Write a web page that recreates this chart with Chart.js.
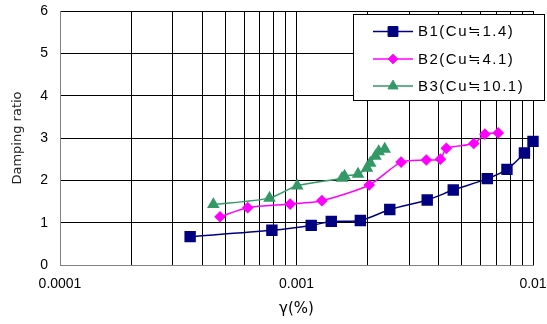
<!DOCTYPE html>
<html>
<head>
<meta charset="utf-8">
<script src="https://cdn.jsdelivr.net/npm/chart.js@4/dist/chart.umd.min.js"></script>
<style>
  html, body { margin: 0; padding: 0; background: #fff; }
  #wrap { width: 547px; height: 324px; }
</style>
</head>
<body>
<div id="wrap"><canvas id="c" width="547" height="324"></canvas></div>
<script>
// Shear strain (%) and damping ratio for three samples
const seriesNames = ['B1(Cu≒1.4)', 'B2(Cu≒4.1)', 'B3(Cu≒10.1)'];

const b1Strain = [3.55e-4, 7.87e-4, 1.154e-3, 1.403e-3, 1.862e-3, 2.48e-3, 3.57e-3, 4.6e-3, 6.41e-3, 7.76e-3, 9.2e-3, 1.0e-2];
const b1Damping = [0.67, 0.82, 0.935, 1.03, 1.05, 1.31, 1.535, 1.77, 2.04, 2.26, 2.645, 2.92];

const b2Strain = [4.75e-4, 6.22e-4, 9.4e-4, 1.281e-3, 2.03e-3, 2.77e-3, 3.54e-3, 4.06e-3, 4.3e-3, 5.62e-3, 6.26e-3, 7.13e-3];
const b2Damping = [1.14, 1.354, 1.44, 1.52, 1.89, 2.43, 2.48, 2.50, 2.755, 2.87, 3.09, 3.12];

const b3Strain = [4.45e-4, 7.69e-4, 1.007e-3, 1.557e-3, 1.597e-3, 1.82e-3, 1.987e-3, 2.05e-3, 2.156e-3, 2.225e-3, 2.36e-3];
const b3Damping = [1.43, 1.58, 1.87, 2.05, 2.10, 2.15, 2.29, 2.41, 2.57, 2.68, 2.74];

// Axis ticks
const xDecades = [0.0001, 0.001, 0.01];
const xTickLabels = ['0.0001', '0.001', '0.01'];
const xMinorSteps = [2, 3, 4, 5, 6, 7, 8, 9];
const yTicks = [0, 1, 2, 3, 4, 5, 6];

const toPoints = (xs, ys) => xs.map((x, i) => ({ x: x, y: ys[i] }));

const FONT = "'Liberation Sans', Arial, sans-serif";
const TITLE_FONT = "'DejaVu Sans', sans-serif";

// Boxed legend in the upper-right corner of the plot
const boxLegend = {
  id: 'boxLegend',
  afterDraw(chart) {
    const ctx = chart.ctx;
    const bx = 353.5, by = 14.5, bw = 191, bh = 86;
    ctx.save();
    ctx.fillStyle = '#fff';
    ctx.fillRect(bx, by, bw, bh);
    ctx.strokeStyle = '#000';
    ctx.lineWidth = 1;
    ctx.strokeRect(bx, by, bw, bh);
    const rows = [31.5, 59, 86];
    chart.data.datasets.forEach((ds, i) => {
      const y = rows[i];
      ctx.strokeStyle = ds.borderColor;
      ctx.lineWidth = 1.5;
      ctx.beginPath();
      ctx.moveTo(373, y);
      ctx.lineTo(413, y);
      ctx.stroke();
      ctx.fillStyle = ds.pointBackgroundColor;
      ctx.strokeStyle = ds.pointBorderColor;
      ctx.lineWidth = 1;
      Chart.helpers.drawPoint(ctx, { pointStyle: ds.pointStyle, radius: ds.pointRadius, borderWidth: 1 }, 393, y);
      ctx.fillStyle = '#000';
      ctx.font = '15px ' + FONT;
      ctx.textBaseline = 'middle';
      ctx.textAlign = 'left';
      ctx.letterSpacing = '1.5px';
      ctx.fillText(ds.label, 418, y + 0.5);
      ctx.letterSpacing = '0px';
    });
    ctx.restore();
  }
};

new Chart(document.getElementById('c'), {
  type: 'line',
  data: {
    datasets: [
      {
        label: seriesNames[0],
        data: toPoints(b1Strain, b1Damping),
        borderColor: '#000080',
        backgroundColor: '#000080',
        pointBackgroundColor: '#000080',
        pointBorderColor: '#000080',
        pointStyle: 'rect',
        pointRadius: 7,
        borderWidth: 1.5,
        tension: 0.25,
        clip: false
      },
      {
        label: seriesNames[1],
        data: toPoints(b2Strain, b2Damping),
        borderColor: '#ff00ff',
        backgroundColor: '#ff00ff',
        pointBackgroundColor: '#ff00ff',
        pointBorderColor: '#ff00ff',
        pointStyle: 'rectRot',
        pointRadius: 4.8,
        borderWidth: 1.5,
        tension: 0.25,
        clip: false
      },
      {
        label: seriesNames[2],
        data: toPoints(b3Strain, b3Damping),
        borderColor: '#339966',
        backgroundColor: '#339966',
        pointBackgroundColor: '#339966',
        pointBorderColor: '#339966',
        pointStyle: 'triangle',
        pointRadius: 5.8,
        borderWidth: 1.5,
        tension: 0.25,
        clip: false
      }
    ]
  },
  options: {
    responsive: false,
    animation: false,
    events: [],
    layout: { padding: { top: 11, right: 14, left: 0, bottom: 0 } },
    plugins: {
      legend: { display: false },
      tooltip: { enabled: false }
    },
    scales: {
      x: {
        type: 'logarithmic',
        min: xDecades[0],
        max: xDecades[xDecades.length - 1],
        afterBuildTicks(scale) {
          const ticks = [];
          xDecades.forEach((d, i) => {
            ticks.push({ value: d });
            if (i < xDecades.length - 1) xMinorSteps.forEach(m => ticks.push({ value: d * m }));
          });
          scale.ticks = ticks;
        },
        afterFit(scale) {
          scale.height = 59;
          scale.paddingLeft = 0;
          scale.paddingRight = 0;
        },
        ticks: {
          autoSkip: false,
          maxRotation: 0,
          padding: 11,
          color: '#000',
          font: { family: FONT, size: 14 },
          callback(value) {
            const idx = xDecades.findIndex(d => Math.abs(d - value) / d < 1e-6);
            return idx >= 0 ? xTickLabels[idx] : '';
          }
        },
        grid: { color: '#000', lineWidth: 1, drawTicks: false, tickLength: 0 },
        border: { color: '#808080', width: 1 },
        title: {
          display: true,
          text: 'γ(%)',
          color: '#000',
          font: { family: TITLE_FONT, size: 15 },
          padding: { top: 6, bottom: 6 }
        }
      },
      y: {
        type: 'linear',
        min: yTicks[0],
        max: yTicks[yTicks.length - 1],
        afterBuildTicks(scale) { scale.ticks = yTicks.map(v => ({ value: v })); },
        afterFit(scale) {
          scale.width = 60;
          scale.paddingTop = 0;
          scale.paddingBottom = 0;
        },
        ticks: {
          padding: 12,
          color: '#000',
          font: { family: FONT, size: 14 }
        },
        grid: { color: '#000', lineWidth: 1, drawTicks: false, tickLength: 0 },
        border: { color: '#808080', width: 1 },
        title: {
          display: true,
          text: 'Damping ratio',
          color: '#222',
          font: { family: TITLE_FONT, size: 13 },
          padding: { top: 10, bottom: 10 }
        }
      }
    }
  },
  plugins: [boxLegend]
});
</script>
</body>
</html>
